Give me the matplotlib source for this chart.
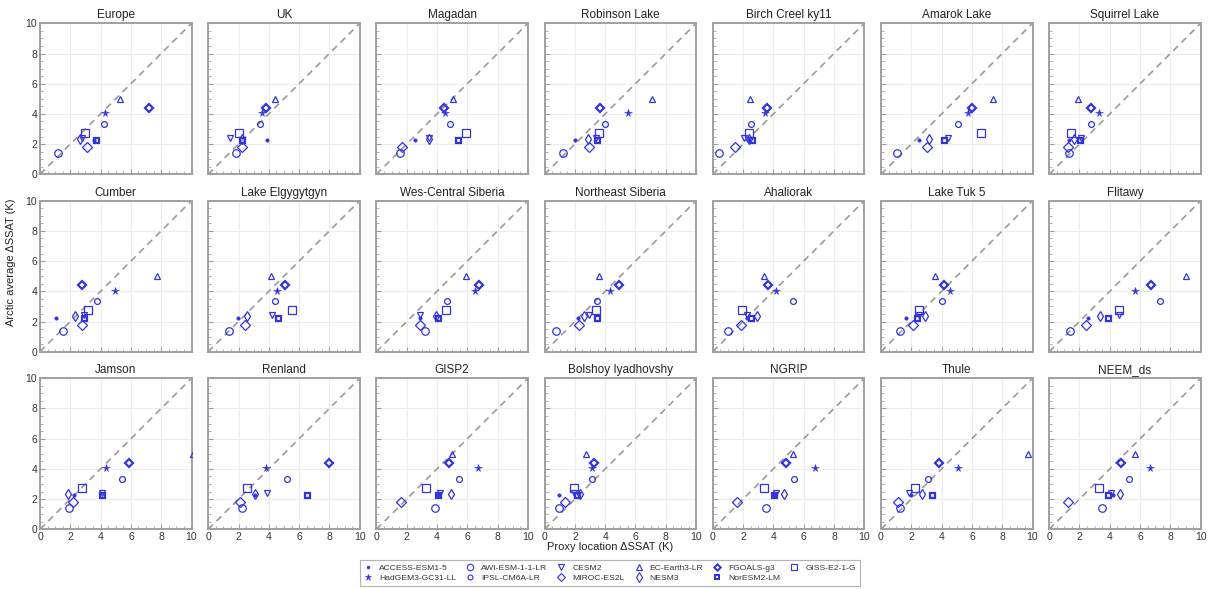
import matplotlib
matplotlib.use("Agg")
import matplotlib.pyplot as plt
from matplotlib.lines import Line2D
import numpy as np

plt.rcParams['font.family'] = ['Liberation Sans', 'DejaVu Sans']

models = ["ACCESS-ESM1-5", "AWI-ESM-1-1-LR", "CESM2", "EC-Earth3-LR", "FGOALS-g3",
          "GISS-E2-1-G", "HadGEM3-GC31-LL", "IPSL-CM6A-LR", "MIROC-ES2L", "NESM3", "NorESM2-LM"]

# Arctic average dSSAT per model (y values)
arctic_avg = [2.25, 1.4, 2.4, 5.0, 4.4, 2.75, 4.05, 3.35, 1.8, 2.35, 2.25]

sites = ["Europe", "UK", "Magadan", "Robinson Lake", "Birch Creel ky11", "Amarok Lake", "Squirrel Lake",
         "Cumber", "Lake Elgygytgyn", "Wes-Central Siberia", "Northeast Siberia", "Ahaliorak", "Lake Tuk 5", "Flitawy",
         "Jamson", "Renland", "GISP2", "Bolshoy Iyadhovshy", "NGRIP", "Thule", "NEEM_ds"]

# Proxy location dSSAT per site, in model order above
europe     = [3.58, 1.16, 2.80, 5.30, 7.21, 2.97, 4.29, 4.22, 3.08, 2.64, 3.67]
uk         = [3.91, 1.82, 1.43, 4.42, 3.80, 2.04, 3.52, 3.45, 2.26, 2.20, 2.20]
magadan    = [2.53, 1.54, 3.47, 5.05, 4.46, 5.89, 4.51, 4.88, 1.71, 3.47, 5.38]
robinson   = [1.98, 1.21, 3.38, 7.08, 3.67, 3.56, 5.49, 3.96, 2.95, 2.86, 3.45]
birch      = [2.37, 0.40, 2.04, 2.48, 3.58, 2.37, 3.47, 2.55, 1.45, 2.42, 2.59]
amarok     = [2.53, 1.05, 4.40, 7.41, 6.00, 6.62, 5.76, 5.05, 3.01, 3.19, 4.13]
squirrel   = [1.32, 1.30, 2.13, 1.91, 2.75, 1.45, 3.30, 2.73, 1.27, 1.63, 2.02]
cumber     = [1.05, 1.49, 2.92, 7.69, 2.79, 3.14, 4.95, 3.74, 2.77, 2.31, 2.92]
elgygytgyn = [1.98, 1.38, 4.22, 4.13, 5.05, 5.56, 4.55, 4.44, 2.46, 2.53, 4.62]
wc_siberia = [2.90, 3.19, 2.90, 5.93, 6.77, 4.62, 6.48, 4.68, 2.86, 3.96, 4.07]
ne_siberia = [2.20, 0.77, 2.95, 3.56, 4.88, 3.38, 4.29, 3.45, 2.29, 2.57, 3.49]
ahaliorak  = [2.26, 1.01, 2.26, 3.36, 3.65, 1.93, 4.18, 5.30, 1.89, 2.92, 2.53]
tuk5       = [1.65, 1.25, 2.48, 3.56, 4.13, 2.48, 4.55, 4.02, 2.09, 2.90, 2.37]
flitawy    = [2.53, 1.36, 4.62, 9.01, 6.75, 4.62, 5.65, 7.30, 2.46, 3.38, 3.85]
jamson     = [2.24, 1.93, 4.11, 10.1, 5.87, 2.75, 4.35, 5.38, 2.15, 1.87, 4.07]
renland    = [3.08, 2.20, 3.85, 10.6, 7.98, 2.57, 3.80, 5.23, 2.13, 3.08, 6.53]
gisp2      = [4.09, 3.85, 4.18, 4.99, 4.77, 3.30, 6.70, 5.45, 1.65, 4.95, 4.09]
bolshoy    = [0.97, 0.92, 1.96, 2.73, 3.27, 1.96, 3.12, 3.12, 1.32, 2.35, 2.13]
ngrip      = [4.02, 3.54, 4.20, 5.30, 4.86, 3.36, 6.77, 5.38, 1.60, 4.68, 4.02]
thule      = [1.98, 1.27, 1.87, 9.71, 3.82, 2.26, 5.10, 3.12, 1.14, 2.70, 3.36]
neem       = [4.22, 3.49, 4.11, 5.65, 4.77, 3.30, 6.64, 5.25, 1.27, 4.70, 3.89]

proxy = [europe, uk, magadan, robinson, birch, amarok, squirrel,
         cumber, elgygytgyn, wc_siberia, ne_siberia, ahaliorak, tuk5, flitawy,
         jamson, renland, gisp2, bolshoy, ngrip, thule, neem]

ticks = [0, 2, 4, 6, 8, 10]

BLUE = "#3333dd"
# marker styles per model
styles = {
    "ACCESS-ESM1-5":   dict(marker="o", ms=2.4, filled=True, mew=0.5),
    "AWI-ESM-1-1-LR":  dict(marker="o", ms=5.4, filled=False, mew=0.9),
    "CESM2":           dict(marker="v", ms=4.6, filled=False, mew=0.9),
    "EC-Earth3-LR":    dict(marker="^", ms=4.6, filled=False, mew=0.9),
    "FGOALS-g3":       dict(marker="D", ms=3.8, filled=False, mew=1.6),
    "GISS-E2-1-G":     dict(marker="s", ms=5.2, filled=False, mew=0.9),
    "HadGEM3-GC31-LL": dict(marker="*", ms=5.6, filled=True, mew=0.4),
    "IPSL-CM6A-LR":    dict(marker="o", ms=4.2, filled=False, mew=0.9),
    "MIROC-ES2L":      dict(marker="D", ms=5.2, filled=False, mew=0.9),
    "NESM3":           dict(marker="d", ms=5.6, filled=False, mew=0.9),
    "NorESM2-LM":      dict(marker="s", ms=3.6, filled=False, mew=1.6),
}

W, H = 1208, 589
fig = plt.figure(figsize=(W / 100, H / 100), dpi=100)

left0 = 40.0
pw = 151.5
step = 168.2
row_top = [23.3, 200.7, 378.3]
ph = 151.0

for i, site in enumerate(sites):
    r, c = divmod(i, 7)
    x0 = left0 + c * step
    y_top = row_top[r]
    ax = fig.add_axes([x0 / W, 1 - (y_top + ph) / H, pw / W, ph / H])
    ax.set_xlim(0, 10)
    ax.set_ylim(0, 10)
    ax.set_xticks(ticks)
    ax.set_yticks(ticks)
    ax.set_xticks(np.arange(0, 10.01, 0.5), minor=True)
    ax.set_yticks(np.arange(0, 10.01, 0.5), minor=True)
    ax.grid(True, which="major", color="#ececec", lw=0.8)
    ax.set_axisbelow(True)
    for sp in ax.spines.values():
        sp.set_color("#a0a0a0")
        sp.set_linewidth(1.4)
    ax.tick_params(which="major", direction="in", length=3.5, color="#a0a0a0", width=0.8,
                   labelsize=7.5, labelcolor="#333333", pad=2)
    ax.tick_params(which="minor", direction="in", length=2, color="#a0a0a0", width=0.6)
    if c != 0:
        ax.tick_params(labelleft=False)
    if r != 2:
        ax.tick_params(labelbottom=False)
    ax.plot([0, 10], [0, 10], ls=(0, (4, 3)), color="#9a9a9a", lw=1.2, zorder=1)
    for j, m in enumerate(models):
        st = styles[m]
        ax.plot([proxy[i][j]], [arctic_avg[j]], ls="none", marker=st["marker"], ms=st["ms"],
                mec=BLUE, mfc=BLUE if st["filled"] else "none", mew=st["mew"], zorder=3)
    ax.set_title(site, fontsize=8.5, color="#222222", pad=3.5)

fig.text(610 / W, 1 - 547 / H, "Proxy location ΔSSAT (K)", ha="center", va="center",
         fontsize=8, color="#222222")
fig.text(11 / W, 1 - 262 / H, "Arctic average ΔSSAT (K)", ha="center", va="center",
         rotation=90, fontsize=8, color="#222222")

# legend, arranged to read row-wise
order = ["ACCESS-ESM1-5", "HadGEM3-GC31-LL", "AWI-ESM-1-1-LR", "IPSL-CM6A-LR", "CESM2", "MIROC-ES2L",
         "EC-Earth3-LR", "NESM3", "FGOALS-g3", "NorESM2-LM", "GISS-E2-1-G"]
handles = []
for m in order:
    st = styles[m]
    handles.append(Line2D([], [], ls="none", marker=st["marker"], ms=st["ms"] * 0.85, mec=BLUE,
                          mfc=BLUE if st["filled"] else "none", mew=st["mew"] * 0.9, label=m))
leg = fig.legend(handles=handles, loc="upper center", bbox_to_anchor=(610 / W, 1 - 556 / H),
                 ncol=6, fontsize=6.1, frameon=True, fancybox=False, edgecolor="#a0a0a0",
                 handletextpad=0.8, columnspacing=1.15, borderpad=0.45, labelspacing=0.25,
                 handlelength=1.0)
leg.get_frame().set_linewidth(0.8)
for t in leg.get_texts():
    t.set_color("#333333")

fig.savefig("out.png", dpi=100)
